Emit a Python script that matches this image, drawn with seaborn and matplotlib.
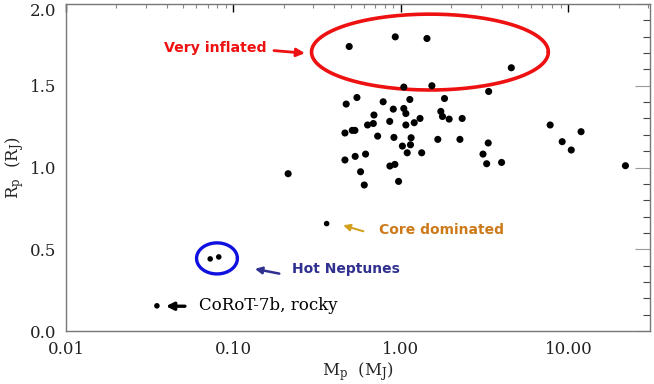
import numpy as np
import pandas as pd
import seaborn as sns
import matplotlib
matplotlib.use("Agg")
import matplotlib.pyplot as plt
import matplotlib.transforms as mtransforms
from matplotlib.ticker import FixedLocator, LogLocator, MultipleLocator, NullFormatter

# ---- data ----
mass_main = [0.491, 0.925, 1.43, 4.56, 1.04, 1.53, 3.34, 0.546, 0.471, 0.783,
             1.13, 1.82, 0.90, 1.04, 1.07, 1.73, 1.77, 1.94, 2.32, 0.69,
             1.30, 0.857, 1.20, 1.07, 0.632, 0.684, 0.512, 0.531, 0.463, 0.726,
             0.908, 1.15, 1.66, 2.25, 1.14, 1.02, 1.09, 1.33, 0.615, 0.533,
             0.463, 3.09, 3.32, 3.25, 3.99, 0.859, 0.920, 0.574, 0.604, 0.968,
             0.212, 7.78, 9.18, 10.4, 11.9, 21.9]
radius_main = [1.740, 1.799, 1.789, 1.610, 1.492, 1.500, 1.465, 1.428, 1.388, 1.402,
               1.416, 1.422, 1.357, 1.361, 1.330, 1.343, 1.312, 1.296, 1.300, 1.321,
               1.300, 1.282, 1.274, 1.260, 1.260, 1.269, 1.227, 1.227, 1.211, 1.192,
               1.184, 1.182, 1.172, 1.172, 1.139, 1.131, 1.090, 1.090, 1.082, 1.068,
               1.046, 1.082, 1.150, 1.023, 1.031, 1.009, 1.019, 0.974, 0.893, 0.915,
               0.962, 1.260, 1.158, 1.107, 1.219, 1.011]
mass_small = [0.360, 0.0726, 0.0817, 0.0349]
radius_small = [0.657, 0.441, 0.453, 0.154]

x_ticks = [0.01, 0.1, 1.0, 10.0]
x_tick_labels = ["0.01", "0.10", "1.00", "10.00"]
y_ticks = [0.0, 0.5, 1.0, 1.5, 2.0]
y_tick_labels = ["0.0", "0.5", "1.0", "1.5", "2.0"]

df_main = pd.DataFrame({"M": mass_main, "R": radius_main})
df_small = pd.DataFrame({"M": mass_small, "R": radius_small})

sns.set_style("white")
plt.rcParams["font.family"] = ["DejaVu Serif"]
plt.rcParams["mathtext.fontset"] = "dejavuserif"

fig = plt.figure(figsize=(6.54, 3.84), dpi=100)
ax = fig.add_axes([66 / 654, (384 - 331) / 384, 584 / 654, 327 / 384])

sns.scatterplot(data=df_main, x="M", y="R", ax=ax, color="black", s=26,
                edgecolor="none", linewidth=0, zorder=3)
sns.scatterplot(data=df_small, x="M", y="R", ax=ax, color="black", s=16,
                edgecolor="none", linewidth=0, zorder=3)

ax.set_xscale("log")
ax.set_xlim(0.01, 30.7)
ax.set_ylim(0.0, 2.0)

ax.xaxis.set_major_locator(FixedLocator(x_ticks))
ax.set_xticklabels(x_tick_labels)
ax.xaxis.set_minor_locator(LogLocator(base=10, subs=np.arange(2, 10)))
ax.xaxis.set_minor_formatter(NullFormatter())
ax.yaxis.set_major_locator(FixedLocator(y_ticks))
ax.set_yticklabels(y_tick_labels)
ax.yaxis.set_minor_locator(MultipleLocator(0.1))

for sp in ax.spines.values():
    sp.set_color("#777777")
    sp.set_linewidth(1.0)

ax.tick_params(which="both", direction="in", top=True, right=True,
               labelsize=12, colors="#222222", pad=7)
ax.tick_params(axis="x", which="major", length=6, width=1.0, color="black")
ax.tick_params(axis="x", which="minor", length=3, width=0.8, color="#888888")
ax.tick_params(axis="y", which="major", length=11, width=0.8, color="#999999")
ax.tick_params(axis="y", which="minor", length=5, width=0.8, color="#444444")

# keep the top "2.0" label inside the figure
top_lab = ax.get_yticklabels()[-1]
top_lab.set_transform(top_lab.get_transform() +
                      mtransforms.ScaledTranslation(0, -4 / 72, fig.dpi_scale_trans))

ax.set_xlabel(r"M$_\mathrm{p}$  (M$_\mathrm{J}$)", fontsize=12, labelpad=2)
ax.set_ylabel(r"R$_\mathrm{p}$  (R$_\mathrm{J}$)", fontsize=12)
ax.yaxis.label.set_va("center")
ax.yaxis.set_label_coords(-0.0873, 0.5)

# ---- ellipses (log-x space) ----
t = np.linspace(0, 2 * np.pi, 300)
ax.plot(10 ** (0.1731 + 0.707 * np.cos(t)), 1.706 + 0.232 * np.sin(t),
        color="#ee1111", lw=2.6, zorder=2)
ax.plot(10 ** (-1.0985 + 0.122 * np.cos(t)), 0.444 + 0.095 * np.sin(t),
        color="#1010e0", lw=2.4, zorder=2)

# ---- annotations ----
sans = ["DejaVu Sans"]
ax.text(0.0385, 1.730, "Very inflated", color="#ee1111", fontsize=10.2,
        fontweight="bold", family=sans, ha="left", va="center")
ax.annotate("", xy=(0.267, 1.699), xytext=(0.1745, 1.715),
            arrowprops=dict(arrowstyle="-|>", color="#ee1111", lw=2,
                            mutation_scale=12, shrinkA=0, shrinkB=0))

ax.text(0.741, 0.616, "Core dominated", color="#cc7a1a", fontsize=10,
        fontweight="bold", family=sans, ha="left", va="center")
ax.annotate("", xy=(0.452, 0.646), xytext=(0.596, 0.610),
            arrowprops=dict(arrowstyle="-|>", color="#d4a020", lw=1.5,
                            mutation_scale=10, shrinkA=0, shrinkB=0))

ax.text(0.2226, 0.382, "Hot Neptunes", color="#303090", fontsize=10,
        fontweight="bold", family=sans, ha="left", va="center")
ax.annotate("", xy=(0.1343, 0.380), xytext=(0.1877, 0.351),
            arrowprops=dict(arrowstyle="-|>", color="#303090", lw=1.8,
                            mutation_scale=10, shrinkA=0, shrinkB=0))

ax.text(0.0619, 0.156, "CoRoT-7b, rocky", color="black", fontsize=12,
        ha="left", va="center")
ax.annotate("", xy=(0.0395, 0.1515), xytext=(0.0513, 0.1515),
            arrowprops=dict(arrowstyle="-|>", color="black", lw=2.4,
                            mutation_scale=11, shrinkA=0, shrinkB=0))

fig.savefig("out.png", dpi=100)
